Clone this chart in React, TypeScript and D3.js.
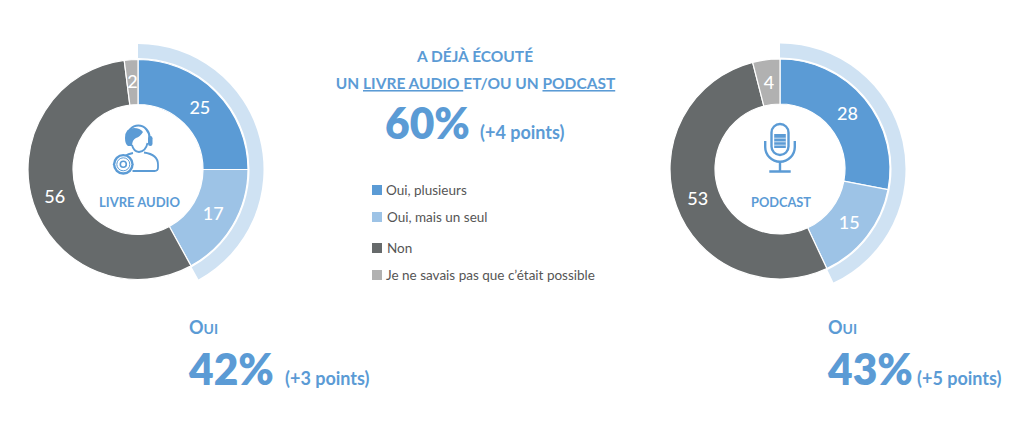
import React from "react";
import * as d3 from "d3";

const categories = ["Oui, plusieurs", "Oui, mais un seul", "Non", "Je ne savais pas que c’était possible"];
const sliceColors = ["#5B9BD5", "#9DC3E6", "#666A6B", "#B1B1B1"];
const livreAudioValues = [25, 17, 56, 2];
const podcastValues = [28, 15, 53, 4];
const ouiLivreAudio = 42;
const ouiPodcast = 43;
const legendY = [190, 217, 248, 275];
const legendTextX = [386, 387, 387, 386];

const BLUE = "#5B9BD5";
const FONT = "Lato, Carlito, sans-serif";
const percentAngle = d3.scaleLinear().domain([0, 100]).range([0, 2 * Math.PI]);
const pie = d3.pie<number>().sort(null).value((d) => d);
const sliceArc = d3.arc<d3.PieArcDatum<number>>().innerRadius(65).outerRadius(110);
const labelArc = d3.arc<d3.PieArcDatum<number>>().innerRadius(87.5).outerRadius(87.5);
const bandArc = d3.arc<any>().innerRadius(111.5).outerRadius(125.5);

function Donut({ cx, cy, values, oui }: { cx: number; cy: number; values: number[]; oui: number }) {
  const arcs = pie(values);
  return (
    <g transform={`translate(${cx},${cy})`}>
      <path d={bandArc({ startAngle: 0, endAngle: percentAngle(oui) })!} fill="#CFE2F3" />
      {arcs.map((a, i) => (
        <path key={i} d={sliceArc(a)!} fill={sliceColors[i]} stroke="#fff" strokeWidth={1.2} />
      ))}
      {arcs.map((a, i) => {
        const [x, y] = labelArc.centroid(a);
        return (
          <text key={i} x={x} y={y} dy="0.35em" textAnchor="middle" fontSize={18} fontWeight={500} fill="#fff" fontFamily={FONT}>
            {a.value}
          </text>
        );
      })}
    </g>
  );
}

function HeadsetIcon() {
  return (
    <g fill="none" stroke={BLUE} strokeWidth={1.8}>
      <path d="M127 138 a11.3 12.5 0 0 1 22.6 0 v2" strokeWidth={2.2} />
      <rect x="148" y="136" width="4.5" height="10" rx="2.2" fill={BLUE} stroke="none" />
      <path d="M132 145 q1.5 6.5 7 7 q7 -1 8.5 -9" />
      <path d="M125 138 Q125 128 134 128 Q140 128 143 132 Q140 137 136 138 Q132 140 132 146 L128 146 Q125 144 125 138 Z" fill={BLUE} stroke="none" />
      <path d="M133 153 q-5 1 -8 3 M144 152.5 q14 2 14 12 v3 q0 3.5 -3.5 3.5 h-22" />
      <circle cx="123.3" cy="164.3" r="10.4" fill={BLUE} stroke="none" />
      <circle cx="123.3" cy="164.3" r="8" fill="#fff" stroke="none" />
      <circle cx="123.3" cy="164.3" r="6.5" strokeWidth={1} />
      <circle cx="123.3" cy="164.3" r="3" strokeWidth={1.6} />
    </g>
  );
}

function MicIcon() {
  return (
    <g fill="none" stroke={BLUE} strokeWidth={2.4}>
      <rect x="771.5" y="124" width="17" height="31" rx="8.5" />
      <rect x="774.2" y="134" width="11.6" height="14" fill={BLUE} stroke="none" />
      <path d="M774.2 138.2 h11.6 M774.2 141.8 h11.6 M774.2 145.2 h11.6" stroke="#fff" strokeWidth={0.7} />
      <path d="M765.2 141 v6 a14.8 14.8 0 0 0 29.6 0 v-6" />
      <path d="M780 162 v9 M769.3 171.5 h21.4" />
    </g>
  );
}

function SmallCapsOui({ x }: { x: number }) {
  return (
    <text x={x} y={334} fill={BLUE} fontFamily={FONT} fontWeight={700} fontSize={18}>
      O<tspan fontSize={14}>UI</tspan>
    </text>
  );
}

export default function App() {
  return (
    <svg width={1024} height={427} style={{ position: "absolute", left: 0, top: 0, display: "block", background: "#fff" }}>
      <Donut cx={138} cy={169.5} values={livreAudioValues} oui={ouiLivreAudio} />
      <Donut cx={780} cy={169} values={podcastValues} oui={ouiPodcast} />
      <HeadsetIcon />
      <MicIcon />
      <text x={139.5} y={207} textAnchor="middle" fill={BLUE} fontFamily={FONT} fontWeight={700} fontSize={13}>LIVRE AUDIO</text>
      <text x={781} y={207} textAnchor="middle" fill={BLUE} fontFamily={FONT} fontWeight={700} fontSize={12.8}>PODCAST</text>

      <text x={475} y={62} textAnchor="middle" fill={BLUE} fontFamily={FONT} fontWeight={700} fontSize={15.5}>A DÉJÀ ÉCOUTÉ</text>
      <text x={475.5} y={89} textAnchor="middle" fill={BLUE} fontFamily={FONT} fontWeight={700} fontSize={15.5}>
        UN <tspan textDecoration="underline">LIVRE AUDIO </tspan>ET/OU UN <tspan textDecoration="underline">PODCAST</tspan>
      </text>
      <text x={385} y={139} fill={BLUE} fontFamily={FONT} fontWeight={800} fontSize={42.5}>60%</text>
      <text x={480} y={139} fill={BLUE} fontFamily={FONT} fontWeight={700} fontSize={18}>(+4 points)</text>

      {categories.map((c, i) => (
        <g key={c}>
          <rect x={372} y={legendY[i] - 5} width={10} height={10} fill={sliceColors[i]} />
          <text x={legendTextX[i]} y={legendY[i]} dy="0.35em" fontFamily={FONT} fontSize={13.5} fill="#555">{c}</text>
        </g>
      ))}

      <SmallCapsOui x={189} />
      <text x={189} y={385} fill={BLUE} fontFamily={FONT} fontWeight={800} fontSize={42.5}>{ouiLivreAudio}%</text>
      <text x={285} y={385} fill={BLUE} fontFamily={FONT} fontWeight={700} fontSize={18}>(+3 points)</text>

      <SmallCapsOui x={828} />
      <text x={828} y={385} fill={BLUE} fontFamily={FONT} fontWeight={800} fontSize={42.5}>{ouiPodcast}%</text>
      <text x={917} y={385} fill={BLUE} fontFamily={FONT} fontWeight={700} fontSize={18}>(+5 points)</text>
    </svg>
  );
}
